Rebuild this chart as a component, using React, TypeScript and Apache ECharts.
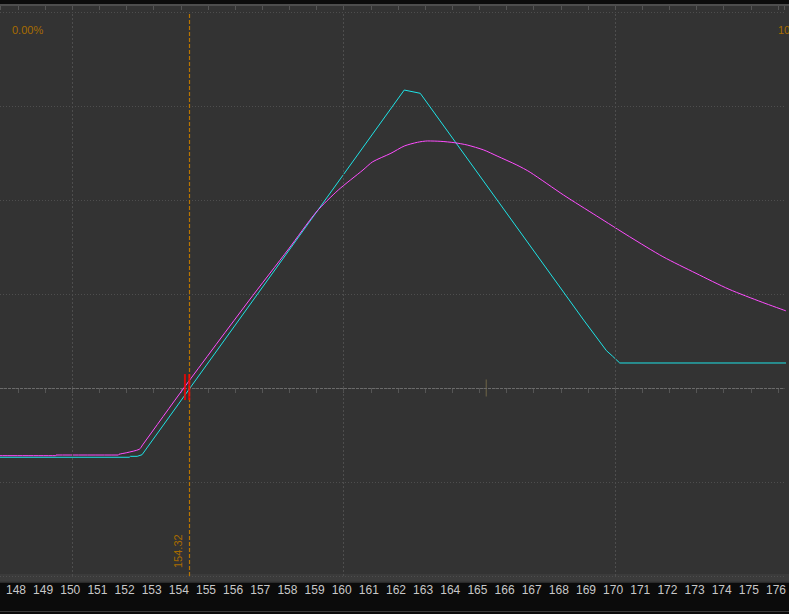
import React, { useEffect, useRef } from "react";
import * as echarts from "echarts";

// underlying price axis (visible window)
const priceMin = 147.337;
const priceMax = 176.238;
const currentPrice = 154.32;
const gridPrices = [150, 160, 170];

// expiration P/L (cyan)
const expX = [147.0, 152.1, 152.14, 152.39, 152.57, 162.23, 162.82, 168.84, 169.68, 169.9, 170.17, 177.0];
const expY = [-0.737, -0.737, -0.727, -0.727, -0.71, 3.17, 3.135, 0.723, 0.397, 0.34, 0.266, 0.266];

// today P/L (magenta)
const nowX = [147.0, 149.39, 149.4, 151.7, 151.72, 152.01, 152.47, 152.59, 154.11, 156.5, 157.97, 158.99, 159.8, 160.71, 161.07, 161.74, 162.23, 162.72, 163.09, 163.58, 164.07, 164.55, 165.16, 165.65, 166.38, 166.87, 168.1, 169.32, 170.53, 171.76, 172.98, 174.2, 175.42, 176.3];
const nowY = [-0.72, -0.72, -0.713, -0.713, -0.705, -0.688, -0.652, -0.606, 0, 0.926, 1.479, 1.872, 2.106, 2.319, 2.407, 2.497, 2.574, 2.614, 2.628, 2.624, 2.61, 2.585, 2.532, 2.468, 2.372, 2.295, 2.053, 1.83, 1.61, 1.397, 1.22, 1.05, 0.912, 0.82];

// markers
const redX = [154.15, 154.31];
const redY = [0.01, 0.01];
const tickX = [165.25];
const tickY = [0];

const leftLabel = "0.00%";
const rightLabel = "100.00%";

const zip = (xs: number[], ys: number[]) => xs.map((x, i) => [x, ys[i]]);

export default function App() {
  const ref = useRef<HTMLDivElement>(null);
  useEffect(() => {
    if (!ref.current) return;
    const chart = echarts.init(ref.current, null, { renderer: "svg" });
    const orange = "#b87400";
    const xCommon = { type: "value", min: priceMin, max: priceMax, splitNumber: 29 };
    const option: any = {
      animation: false,
      backgroundColor: "#0b0b0b",
      grid: { left: 0, right: 0, top: 12, bottom: 38 },
      graphic: [
        { type: "rect", z: -10, shape: { x: 0, y: 4, width: 789, height: 2 }, style: { fill: "#4d4d4d" } },
        { type: "rect", z: -10, shape: { x: 0, y: 6, width: 789, height: 568 }, style: { fill: "#333333" } },
        { type: "rect", z: -10, shape: { x: 0, y: 574, width: 789, height: 7.5 }, style: { fill: "#3b3b3b" } },
        { type: "rect", z: -10, shape: { x: 0, y: 581.5, width: 789, height: 1 }, style: { fill: "#4a4a4a" } },
        { type: "rect", z: -10, shape: { x: 0, y: 611, width: 789, height: 1 }, style: { fill: "#3a3a3a" } },
        {
          type: "text", x: 12, y: 24, z: 10,
          style: { text: leftLabel, fill: "#a86c00", font: '11px "Liberation Sans"', verticalAlign: "top" },
        },
        {
          type: "text", x: 778, y: 24, z: 10,
          style: { text: rightLabel, fill: "#a86c00", font: '11px "Liberation Sans"', verticalAlign: "top" },
        },
      ],
      xAxis: [
        {
          ...xCommon, position: "bottom",
          axisLine: { show: false },
          axisTick: { show: true, length: 5, lineStyle: { color: "#555555" } },
          axisLabel: {
            color: "#c8c8c8", fontSize: 12, fontFamily: "Liberation Sans", margin: 8,
            showMinLabel: false, showMaxLabel: false, padding: [0, 4, 0, 0],
          },
          splitLine: { show: false },
        },
        {
          ...xCommon, position: "top", offset: 2,
          axisLine: { show: false },
          axisTick: { show: true, length: 4, lineStyle: { color: "#555555" } },
          axisLabel: { show: false },
          splitLine: { show: false },
        },
      ],
      yAxis: {
        type: "value", min: -2, max: 4, interval: 1,
        axisLine: { show: false }, axisTick: { show: false }, axisLabel: { show: false },
        splitLine: { show: true, lineStyle: { color: "#4e4e4e", type: [1, 2], width: 1 } },
      },
      series: [
        {
          type: "line", data: [], z: 1, silent: true,
          markLine: {
            silent: true, symbol: ["none", "none"], animation: false,
            label: { show: false },
            data: [
              ...gridPrices.map((p) => ({
                xAxis: p, lineStyle: { color: "#4e4e4e", type: [2, 2], width: 1 }, label: { show: false },
              })),
              { yAxis: 0, lineStyle: { color: "#6a6a6a", type: [3, 1], width: 1 }, label: { show: false } },
            ],
          },
        },
        {
          type: "line", data: [], z: 2, silent: true,
          markLine: {
            silent: true, symbol: ["none", "none"], animation: false,
            data: [
              {
                xAxis: currentPrice,
                lineStyle: { color: orange, type: [4, 2], width: 1.2, opacity: 1 },
                label: {
                  show: true, formatter: String(currentPrice), position: "insideStartTop",
                  color: "#a86c00", fontSize: 11, fontFamily: "Liberation Sans", distance: [8, 6],
                },
              },
            ],
          },
        },
        {
          type: "line", data: zip(expX, expY), symbol: "none", z: 3,
          lineStyle: { color: "#1fe3e6", width: 1 },
        },
        {
          type: "line", data: zip(nowX, nowY), symbol: "none", z: 3, smooth: 0.25,
          lineStyle: { color: "#ff4dff", width: 1 },
        },
        {
          type: "scatter", data: zip(tickX, tickY), symbol: "rect", symbolSize: [1, 17], z: 4,
          itemStyle: { color: "#80734c" },
        },
        {
          type: "scatter", data: zip(redX, redY), symbol: "rect", symbolSize: [2, 26], z: 5,
          itemStyle: { color: "#ff0000" },
        },
      ],
    };
    chart.setOption(option);
    return () => chart.dispose();
  }, []);
  return (
    <div
      ref={ref}
      style={{ position: "fixed", left: 0, top: 0, width: 789, height: 614, background: "#0b0b0b" }}
    />
  );
}
